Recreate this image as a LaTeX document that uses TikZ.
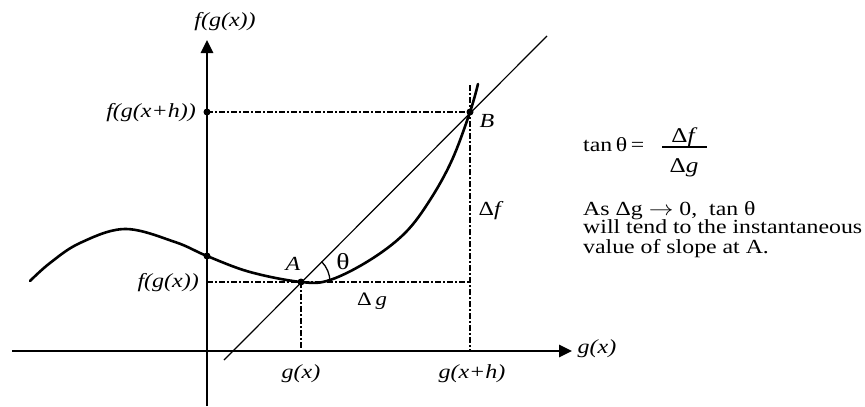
\documentclass[tikz,border=0pt]{standalone}
\usepackage{fontspec}
\setmainfont{Liberation Serif}
\usepackage{graphicx}
\usetikzlibrary{arrows.meta}
\newcommand\hs[1]{\scalebox{1.2}[1]{#1}}
\newcommand\hb[1]{\scalebox{1.19}[1]{#1}}
\begin{document}
\begin{tikzpicture}[x=1pt,y=-1pt,
 axis/.style={line width=2.6pt, -{Triangle[length=13pt,width=12pt]}},
 guide/.style={line width=1.4pt, dash pattern=on 6pt off 2pt on 2pt off 2pt},
 curve/.style={line width=2.6pt, line cap=round},
 secant/.style={line width=1.2pt},
 lbl/.style={font=\fontsize{20}{20}\selectfont\itshape, inner sep=0pt},
 txt/.style={font=\fontsize{19}{19}\selectfont, inner sep=0pt},
 body/.style={font=\fontsize{20}{17}\selectfont, inner sep=0pt},
 dot/.style={circle, fill=black, inner sep=0pt, minimum size=7pt}]
\useasboundingbox (0,0) rectangle (865,407);
% axes
\coordinate (yb) at (207,406);
\coordinate (yt) at (207,40);
\coordinate (xl) at (12,351);
\coordinate (xr) at (572,351);
\draw[axis] (yb) -- (yt);
\draw[axis] (xl) -- (xr);
% key points
\coordinate (A) at (301,282);
\coordinate (B) at (470,112);
\coordinate (fB) at (207,112);
\coordinate (fA) at (207,282);
\coordinate (c0) at (207,256);
\coordinate (gA) at (301,351);
\coordinate (gB) at (470,351);
\coordinate (Btop) at (470,85);
\coordinate (Ar) at (470,282);
% guides
\draw[guide] (fB) -- (B);
\draw[guide] (fA) -- (Ar);
\draw[guide] (A) -- (gA);
\draw[guide] (Btop) -- (gB);
% secant
\coordinate (s1) at (224,360);
\coordinate (s2) at (547,36);
\draw[secant] (s1) -- (s2);
% curve
\draw[curve] plot[smooth, tension=0.6] coordinates {(30,281) (50,263) (80,243) (125,229) (175,242) (207,256) (250,272) (301,282) (330,280) (370,260) (405,233) (430,200) (452,160) (470,112) (478,84)};
% angle
\draw[line width=1.3pt] ([shift={(29,0)}]A) arc[start angle=0, end angle=-45, radius=29];
% dots
\node[dot] (dfB) at (fB) {};
\node[dot] (dc0) at (c0) {};
\node[dot] (dA) at (A) {};
\node[dot] (dB) at (B) {};
% labels
\node[lbl] (ylab) at (225,22) {\hs{f(g(x))}};
\node[lbl, anchor=east] (lfB) at (196,113) {\hs{f(g(x+h))}};
\node[lbl, anchor=east] (lfA) at (199,283) {\hs{f(g(x))}};
\node[lbl] (lA) at (293,264) {\hs{A}};
\node[lbl] (lB) at (487,121) {\hs{B}};
\node[txt, font=\fontsize{23}{23}\selectfont] (lth) at (343,262) {\hs{θ}};
\node[txt] (ldg) at (372,301) {\hs{Δ\,\textit{g}}};
\node[txt, font=\fontsize{20}{20}\selectfont, anchor=base] (ldf) at (491,215) {\hs{Δ\textit{f}}};
\node[lbl] (lgA) at (301,374) {\hs{g(x)}};
\node[lbl] (lgB) at (472,374) {\hs{g(x+h)}};
\node[lbl] (xlab) at (597,349) {\hs{g(x)}};
% formula
\node[body, anchor=base west] (tan) at (583,151) {\hb{tan\hspace{3pt}θ\hspace{3pt}=}};
\node[body, font=\fontsize{21}{21}\selectfont, anchor=base] (num) at (684.5,142) {\hs{Δ\textit{f}}};
\node[body, font=\fontsize{21}{21}\selectfont, anchor=base] (den) at (684,172) {\hs{Δ\textit{g}}};
\coordinate (fr1) at (662,147);
\coordinate (fr2) at (707,147);
\draw[line width=1.3pt] (fr1) -- (fr2);
\node[body, anchor=base west] (note) at (583,215) {\hb{\begin{tabular}[t]{@{}l@{}}As Δg $\rightarrow$ 0,\ \ tan θ\\ will tend to the instantaneous\\ value of slope at A.\end{tabular}}};
\end{tikzpicture}
\end{document}
